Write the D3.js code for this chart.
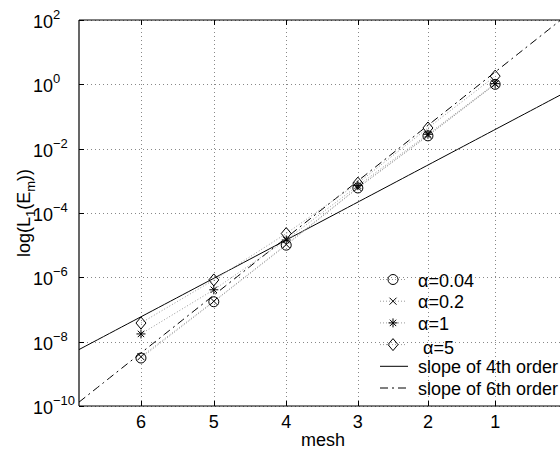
<!DOCTYPE html>
<html><head><meta charset="utf-8">
<script src="https://cdn.jsdelivr.net/npm/d3@7"></script>
<style>body{margin:0;background:#fff}svg{display:block}text{font-family:"Liberation Sans",Arial,sans-serif;fill:#000}</style>
</head><body><svg id="c" width="560" height="455"></svg>
<script>
// ---- data ----
const meshes = [6, 5, 4, 3, 2, 1];
const meshPoints = [257, 129, 65, 33, 17, 9];      // grid points per mesh level (x basis)
const xLimits = [462, 4.56];
const yLimits = [1e-10, 1e2];
const yTicks = [-10, -8, -6, -4, -2, 0, 2];
const seriesNames = ["α=0.04", "α=0.2", "α=1", " α=5"];
const seriesMarkers = ["circle", "x", "star", "diamond"];
const err004 = [3.1e-9, 1.74e-7, 1.0e-5, 6.0e-4, 2.5e-2, 1.0];
const err02  = [3.4e-9, 1.8e-7, 1.05e-5, 6.2e-4, 2.6e-2, 1.02];
const err1   = [1.74e-8, 4.1e-7, 1.45e-5, 7.1e-4, 2.8e-2, 1.05];
const err5   = [3.8e-8, 8.3e-7, 2.3e-5, 8.5e-4, 4.4e-2, 1.8];
const refOrders = [4, 6];
const refNames = ["slope of 4th order", "slope of 6th order"];
const refAnchorPoints = 65;
const refAnchorValues = [1.45e-5, 1.7e-5];

// ---- layout ----
const L = 79, R = 567, T = 20, B = 406;
const svg = d3.select("#c");
const x = d3.scaleLog().domain(xLimits).range([L, R]);
const y = d3.scaleLog().domain(yLimits).range([B, T]);

svg.append("defs").append("clipPath").attr("id", "clip")
  .append("rect").attr("x", L).attr("y", T).attr("width", R - L).attr("height", B - T);

// grid
const grid = svg.append("g").attr("stroke", "#888").attr("stroke-width", 1).attr("stroke-dasharray", "1,3");
meshPoints.forEach(p => grid.append("line").attr("x1", Math.round(x(p)) + 0.5).attr("x2", Math.round(x(p)) + 0.5).attr("y1", T).attr("y2", B));
yTicks.forEach(e => grid.append("line").attr("y1", Math.round(y(Math.pow(10, e))) + 0.5).attr("y2", Math.round(y(Math.pow(10, e))) + 0.5).attr("x1", L).attr("x2", R));

// axes box (left, bottom, top)
const ax = svg.append("g").attr("stroke", "#000").attr("stroke-width", 1.2).attr("fill", "none");
ax.append("line").attr("x1", L).attr("x2", L).attr("y1", T).attr("y2", B);
ax.append("line").attr("x1", L).attr("x2", R).attr("y1", B).attr("y2", B);
ax.append("line").attr("x1", L).attr("x2", R).attr("y1", T).attr("y2", T);
// ticks
meshPoints.forEach(p => {
  const px = Math.round(x(p)) + 0.5;
  ax.append("line").attr("x1", px).attr("x2", px).attr("y1", B).attr("y2", B - 5).attr("stroke-width", 1);
  ax.append("line").attr("x1", px).attr("x2", px).attr("y1", T).attr("y2", T + 5).attr("stroke-width", 1);
});
yTicks.forEach(e => {
  const py = Math.round(y(Math.pow(10, e))) + 0.5;
  ax.append("line").attr("x1", L).attr("x2", L + 5).attr("y1", py).attr("y2", py).attr("stroke-width", 1);
});

// tick labels
meshes.forEach((m, i) => svg.append("text").attr("x", x(meshPoints[i])).attr("y", B + 22)
  .attr("text-anchor", "middle").attr("font-size", 18).text(m));
yTicks.forEach(e => {
  const py = y(Math.pow(10, e));
  const t = svg.append("text").attr("x", 33).attr("y", py + 8).attr("font-size", 18);
  t.append("tspan").text("10");
  t.append("tspan").attr("font-size", 13).attr("dy", -9).text(e < 0 ? "\u2212" + Math.abs(e) : e);
});

// axis titles
svg.append("text").attr("x", (L + R) / 2).attr("y", 446).attr("text-anchor", "middle").attr("font-size", 18).text("mesh");
const yl = svg.append("text").attr("transform", `translate(30,${(T + B) / 2}) rotate(-90)`)
  .attr("text-anchor", "middle").attr("font-size", 18);
yl.append("tspan").text("log(L");
yl.append("tspan").attr("font-size", 13).attr("dy", 5).text("1");
yl.append("tspan").attr("dy", -5).text("(E");
yl.append("tspan").attr("font-size", 13).attr("dy", 5).text("m");
yl.append("tspan").attr("dy", -5).text("))");

// plot
const plot = svg.append("g").attr("clip-path", "url(#clip)");
const xs = d3.range(0, 81).map(i => xLimits[0] * Math.pow(xLimits[1] / xLimits[0], i / 80));
const refDash = ["none", "8,4,2,4"];
refOrders.forEach((o, k) => {
  const pts = xs.map(n => [n, refAnchorValues[k] * Math.pow(refAnchorPoints / n, o)]);
  plot.append("path").attr("d", d3.line().x(d => x(d[0])).y(d => y(d[1]))(pts))
    .attr("fill", "none").attr("stroke", "#000").attr("stroke-width", 1).attr("stroke-dasharray", refDash[k]);
});

const allSeries = [err004, err02, err1, err5];
const line = d3.line().x((d, i) => x(meshPoints[i])).y(d => y(d));
allSeries.forEach(s => plot.append("path").attr("d", line(s)).attr("fill", "none")
  .attr("stroke", "#999").attr("stroke-width", 1).attr("stroke-dasharray", "1,2"));

function marker(g, type, cx, cy) {
  const m = g.append("g").attr("transform", `translate(${cx},${cy})`).attr("stroke", "#000").attr("fill", "none").attr("stroke-width", 1);
  if (type === "circle") m.append("circle").attr("r", 5);
  else if (type === "x") m.append("path").attr("d", "M-3.5,-3.5L3.5,3.5M-3.5,3.5L3.5,-3.5");
  else if (type === "star") m.append("path").attr("d", "M-4.5,0L4.5,0M0,-4.5L0,4.5M-3.2,-3.2L3.2,3.2M-3.2,3.2L3.2,-3.2");
  else if (type === "diamond") m.append("path").attr("d", "M0,-6L5,0L0,6L-5,0Z");
}
allSeries.forEach((s, k) => s.forEach((v, i) => marker(svg, seriesMarkers[k], x(meshPoints[i]), y(v))));

// legend
const lg = svg.append("g");
const rowY = i => 279.5 + i * 21.7;
seriesNames.forEach((nm, i) => {
  lg.append("line").attr("x1", 380).attr("x2", 407).attr("y1", rowY(i)).attr("y2", rowY(i))
    .attr("stroke", "#999").attr("stroke-dasharray", "1,2");
  marker(lg, seriesMarkers[i], 393, rowY(i));
  lg.append("text").attr("x", 418).attr("y", rowY(i) + 7 + (i === 3 ? 2 : 0)).attr("font-size", 18)
    .attr("xml:space", "preserve").style("white-space", "pre").text(nm);
});
refNames.forEach((nm, k) => {
  const i = 4 + k;
  lg.append("line").attr("x1", 380).attr("x2", 408).attr("y1", rowY(i)).attr("y2", rowY(i))
    .attr("stroke", "#000").attr("stroke-dasharray", refDash[k]);
  lg.append("text").attr("x", 418).attr("y", rowY(i) + 7).attr("font-size", 18).text(nm);
});
</script></body></html>
